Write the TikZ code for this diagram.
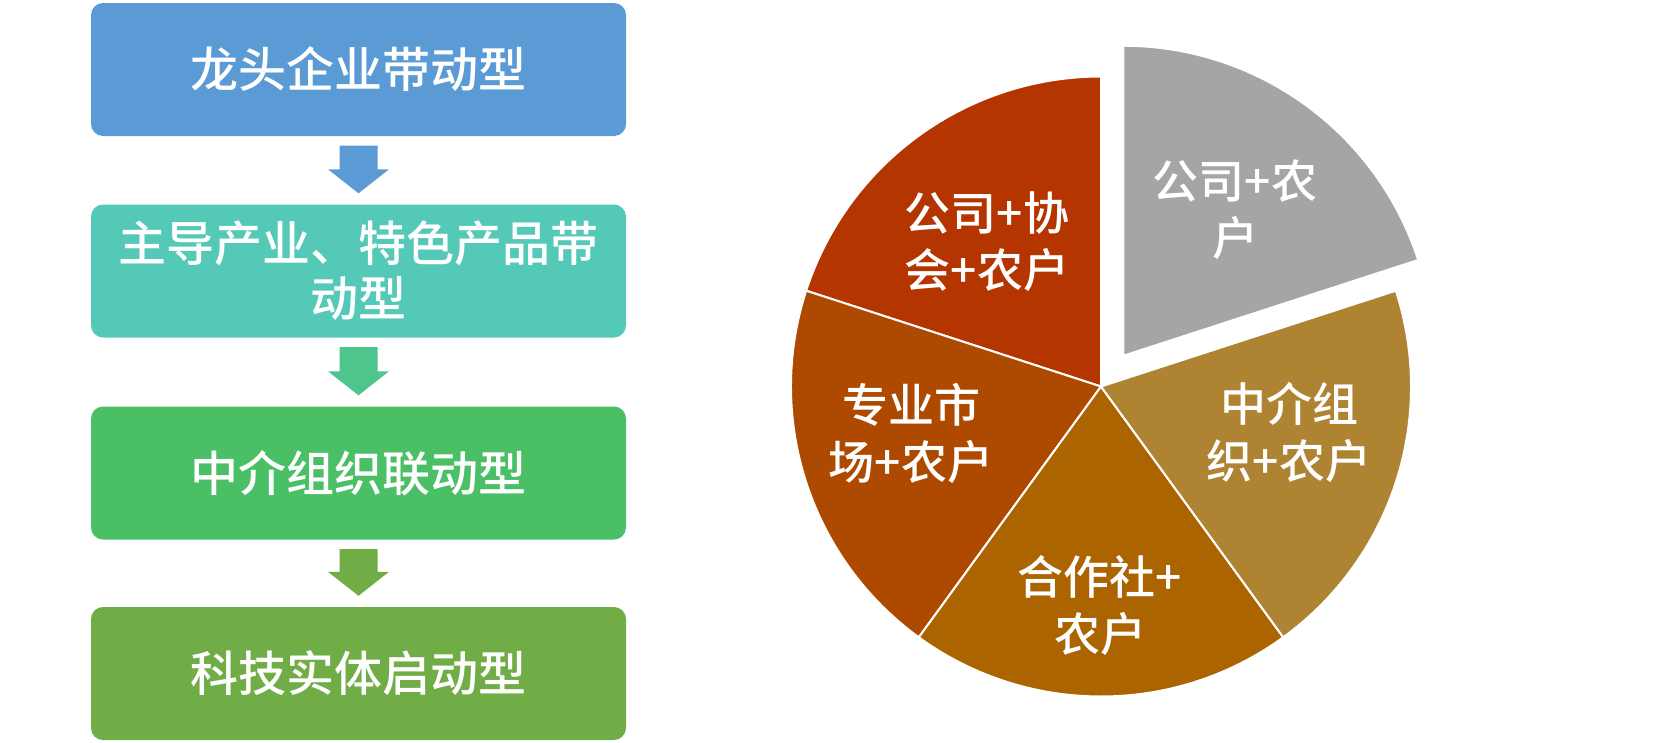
\documentclass[tikz,border=0pt]{standalone}
\usepackage{fontspec}
\newfontfamily\cjk{Noto Sans CJK SC Medium}
\usetikzlibrary{calc}
\definecolor{cA}{HTML}{5B9BD5}
\definecolor{cB}{HTML}{54C9B7}
\definecolor{cC}{HTML}{4ABF66}
\definecolor{cD}{HTML}{70AD47}
\definecolor{aB}{HTML}{4EC58D}
\definecolor{pGrey}{HTML}{A5A5A5}
\definecolor{pRed}{HTML}{B43500}
\definecolor{pLeft}{HTML}{AE4A00}
\definecolor{pBot}{HTML}{AC6400}
\definecolor{pRight}{HTML}{AE8433}
\newcommand\flowarrow[3]{%
  \fill[#3] ($(#1.south)+(-19,-9.5)$) -- ($(#1.south)+(19,-9.5)$) -- ($(#2.north)+(19,35)$)
    -- ($(#2.north)+(30.5,35)$) -- ($(#2.north)+(0,11)$) -- ($(#2.north)+(-30.5,35)$)
    -- ($(#2.north)+(-19,35)$) -- cycle;}
\newcommand\pieslice[4]{% center, start, end, colour
  \fill[#4, draw=white, line width=2pt, line join=round] (#1) -- ++(#2:310)
    arc[start angle=#2, end angle=#3, radius=310] -- cycle;}
\tikzset{
  flowbox/.style={minimum width=535pt, minimum height=133pt, rounded corners=12pt,
    inner sep=0pt, text=white, align=center, font=\cjk\fontsize{48}{55}\selectfont},
  pielabel/.style={inner sep=0pt, text=white, align=center, font=\cjk\fontsize{46}{57}\selectfont}
}
\begin{document}
\begin{tikzpicture}[x=1pt,y=1pt]
\useasboundingbox (0,0) rectangle (1666,-742);
% flow boxes
\node[flowbox, fill=cA] (b1) at (358.5,-69.5) {龙头企业带动型};
\node[flowbox, fill=cB] (b2) at (358.5,-271) {主导产业、特色产品带\\动型};
\node[flowbox, fill=cC] (b3) at (358.5,-473) {中介组织联动型};
\node[flowbox, fill=cD] (b4) at (358.5,-673.5) {科技实体启动型};
\flowarrow{b1}{b2}{cA}
\flowarrow{b2}{b3}{aB}
\flowarrow{b3}{b4}{cD}
% pie
\coordinate (pc) at (1101,-386.5);
\coordinate (pg) at ($(pc)+(54:38)$);
\pieslice{pc}{90}{162}{pRed}
\pieslice{pc}{162}{234}{pLeft}
\pieslice{pc}{234}{306}{pBot}
\pieslice{pc}{306}{378}{pRight}
\pieslice{pg}{18}{90}{pGrey}
\node[pielabel] (l1) at (1235,-210) {公司+农\\户};
\node[pielabel] (l2) at (987,-242) {公司+协\\会+农户};
\node[pielabel] (l3) at (911,-433) {专业市\\场+农户};
\node[pielabel] (l4) at (1100,-606) {合作社+\\农户};
\node[pielabel] (l5) at (1289,-432) {中介组\\织+农户};
\end{tikzpicture}
\end{document}
